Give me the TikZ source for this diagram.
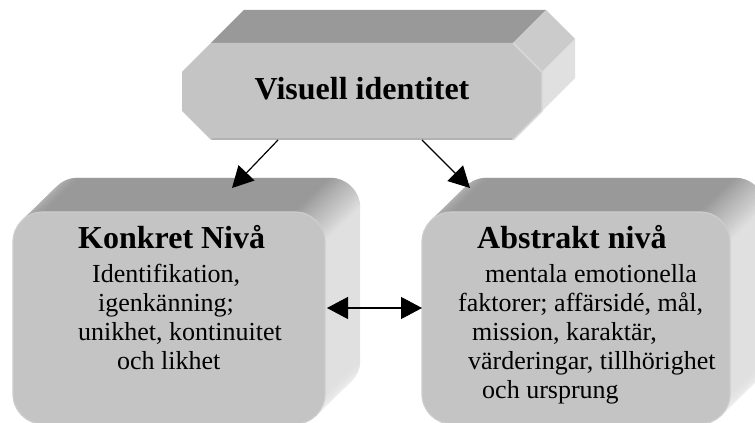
\documentclass[tikz,border=0pt]{standalone}
\usepackage{fontspec}
\setmainfont{Liberation Serif}
\usetikzlibrary{arrows.meta}

\definecolor{facecol}{HTML}{C4C4C4}
\definecolor{topcol}{HTML}{999999}
\definecolor{sidecol}{HTML}{E0E0E0}
\definecolor{bevelcol}{HTML}{CBCBCB}
\definecolor{rimcol}{HTML}{CDCDCD}
\definecolor{seamcol}{HTML}{B2B2B2}
\definecolor{glintcol}{HTML}{D8D8D8}

\tikzset{
  bodytext/.style={anchor=base west, inner sep=0pt, font=\fontsize{26}{30}\selectfont},
  headtext/.style={anchor=base west, inner sep=0pt, font=\fontsize{32}{36}\selectfont\bfseries},
  frontbox/.style={draw=rimcol, fill=facecol, line width=1.2pt, rounded corners=30pt, inner sep=0pt},
  link/.style={line width=1.2pt, -{Triangle[length=21pt,width=22pt]}},
  twoway/.style={line width=1.2pt, {Triangle[length=21pt,width=22pt]}-{Triangle[length=21pt,width=22pt]}},
}

% Extruded rounded block: #1 left, #2 bottom, #3 right, #4 top of the front face
\newcommand\roundblock[4]{%
  \def\rbr{30}\def\rbdx{35}\def\rbdy{34}%
  \pgfmathsetmacro\cxl{#1+\rbr}%
  \pgfmathsetmacro\cxr{#3-\rbr}%
  \pgfmathsetmacro\cyt{#4-\rbr}%
  \pgfmathsetmacro\cyb{#2+\rbr}%
  % swept body in the side colour
  \fill[sidecol,rounded corners=30pt] (#1+\rbdx,#2+\rbdy) rectangle (#3+\rbdx,#4+\rbdy);
  \fill[sidecol] ({\cxl+\rbr*cos(135)},{\cyt+\rbr*sin(135)}) -- ++(\rbdx,\rbdy)
     -- ({\cxr+\rbr*cos(-45)+\rbdx},{\cyb+\rbr*sin(-45)+\rbdy})
     -- ({\cxr+\rbr*cos(-45)},{\cyb+\rbr*sin(-45)}) -- cycle;
  % flat top face
  \fill[topcol] (\cxl,#4) -- (\cxr,#4) -- ++(\rbdx,\rbdy) -- (\cxl+\rbdx,#4+\rbdy) -- cycle;
  % upper right rounding: top shade fading into the side
  \foreach \ang in {90,85,...,5}{%
    \pgfmathtruncatemacro\mixp{100*(\ang-2.5)/90}%
    \pgfmathsetmacro\angb{\ang-5}%
    \fill[topcol!\mixp!sidecol, draw=topcol!\mixp!sidecol, line width=0.4pt]
      ({\cxr+\rbr*cos(\ang)},{\cyt+\rbr*sin(\ang)}) -- ({\cxr+\rbr*cos(\angb)},{\cyt+\rbr*sin(\angb)})
      -- ++(\rbdx,\rbdy) -- ({\cxr+\rbr*cos(\ang)+\rbdx},{\cyt+\rbr*sin(\ang)+\rbdy}) -- cycle;
  }
  % upper left rounding: slight highlight towards the edge
  \foreach \ang in {90,95,...,130}{%
    \pgfmathtruncatemacro\mixp{100-40*(\ang-87.5)/45}%
    \pgfmathsetmacro\angb{\ang+5}%
    \fill[topcol!\mixp!sidecol, draw=topcol!\mixp!sidecol, line width=0.4pt]
      ({\cxl+\rbr*cos(\ang)},{\cyt+\rbr*sin(\ang)}) -- ({\cxl+\rbr*cos(\angb)},{\cyt+\rbr*sin(\angb)})
      -- ++(\rbdx,\rbdy) -- ({\cxl+\rbr*cos(\ang)+\rbdx},{\cyt+\rbr*sin(\ang)+\rbdy}) -- cycle;
  }
  % lower right rounding: faint highlight
  \foreach \ang in {0,-5,...,-40}{%
    \pgfmathtruncatemacro\mixp{100-50*(-\ang+2.5)/45}%
    \pgfmathsetmacro\angb{\ang-5}%
    \fill[sidecol!\mixp!white, draw=sidecol!\mixp!white, line width=0.4pt]
      ({\cxr+\rbr*cos(\ang)},{\cyb+\rbr*sin(\ang)}) -- ({\cxr+\rbr*cos(\angb)},{\cyb+\rbr*sin(\angb)})
      -- ++(\rbdx,\rbdy) -- ({\cxr+\rbr*cos(\ang)+\rbdx},{\cyb+\rbr*sin(\ang)+\rbdy}) -- cycle;
  }
}

\begin{document}
\begin{tikzpicture}[x=1pt,y=1pt]
  \useasboundingbox (0,0) rectangle (755,423);
  \clip (0,0) rectangle (755,423);
  \fill[white] (0,0) rectangle (755,423);

  % ---- top block: bevelled bar ----
  \fill[topcol]   (211,380) -- (513,380) -- (546,413) -- (244,413) -- cycle;
  \fill[bevelcol] (513,380) -- (542,351) -- (575,384) -- (546,413) -- cycle;
  \fill[sidecol]  (542,351) -- (542,312) -- (575,345) -- (575,384) -- cycle;
  \fill[facecol]  (211,380) -- (513,380) -- (542,351) -- (542,312) -- (513,283)
                  -- (211,283) -- (182,312) -- (182,351) -- cycle;
  \draw[glintcol, line width=1.5pt] (513,380) -- (542,351) -- (542,312) -- (513,283);
  \draw[seamcol, line width=2pt] (212,284) -- (512,284);
  \node[inner sep=0pt, anchor=base, font=\fontsize{32}{36}\selectfont\bfseries] (vis) at (362,323) {Visuell identitet};

  % ---- lower blocks ----
  \roundblock{13}{-1}{325}{211}
  \node[frontbox, minimum width=312pt, minimum height=212pt] (konkret) at (169,105) {};
  \roundblock{422}{-1}{730}{211}
  \node[frontbox, minimum width=308pt, minimum height=212pt] (abstrakt) at (576,105) {};

  % texts of the left block
  \node[headtext] (k0) at (78,174) {Konkret Nivå};
  \node[bodytext] (k1) at (92,140) {Identifikation,};
  \node[bodytext] (k2) at (98,111) {igenkänning;};
  \node[bodytext] (k3) at (78,82)  {unikhet, kontinuitet};
  \node[bodytext] (k4) at (117,53) {och likhet};

  % texts of the right block
  \node[headtext] (a0) at (477,174) {Abstrakt nivå};
  \node[bodytext] (a1) at (485,140) {mentala emotionella};
  \node[bodytext] (a2) at (458,111) {faktorer; affärsidé, mål,};
  \node[bodytext] (a3) at (472,82)  {mission, karaktär,};
  \node[bodytext] (a4) at (468,53)  {värderingar, tillhörighet};
  \node[bodytext] (a5) at (482,24)  {och ursprung};

  % ---- connectors ----
  \coordinate (fromleft)  at (278,283);
  \coordinate (toleft)    at (232,235);
  \coordinate (fromright) at (422,283);
  \coordinate (toright)   at (470,235);
  \coordinate (midl)      at (327,115);
  \coordinate (midr)      at (422,115);
  \draw[link] (fromleft) -- (toleft);
  \draw[link] (fromright) -- (toright);
  \draw[twoway] (midl) -- (midr);
\end{tikzpicture}
\end{document}
